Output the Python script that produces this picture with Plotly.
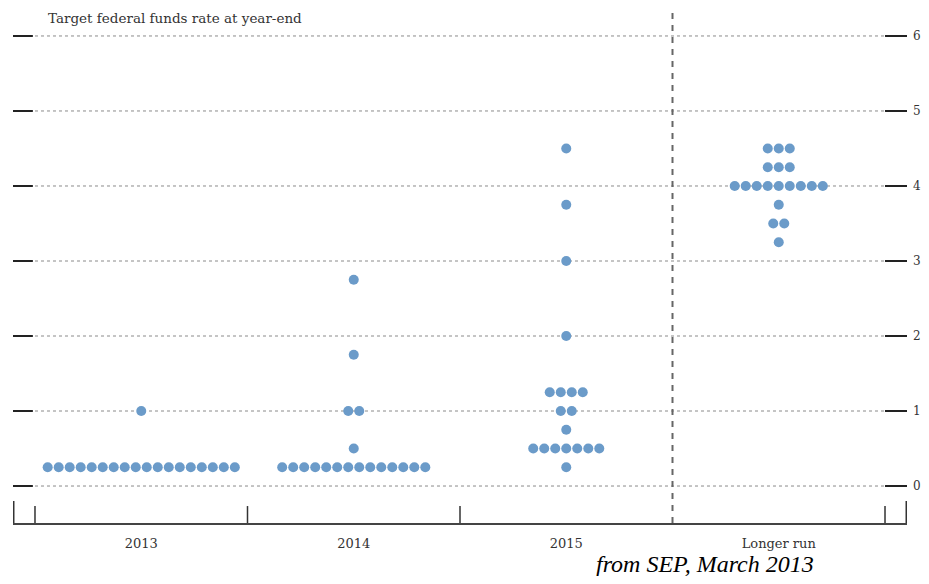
import plotly.graph_objects as go

# ---- data ----
categories = ["2013", "2014", "2015", "Longer run"]
rates_2013 = [0.25, 1.0]
counts_2013 = [18, 1]
rates_2014 = [0.25, 0.5, 1.0, 1.75, 2.75]
counts_2014 = [14, 1, 2, 1, 1]
rates_2015 = [0.25, 0.5, 0.75, 1.0, 1.25, 2.0, 3.0, 3.75, 4.5]
counts_2015 = [1, 7, 1, 2, 4, 1, 1, 1, 1]
rates_lr = [3.25, 3.5, 3.75, 4.0, 4.25, 4.5]
counts_lr = [1, 2, 1, 9, 3, 3]
y_ticks = [0, 1, 2, 3, 4, 5, 6]

groups = [(rates_2013, counts_2013), (rates_2014, counts_2014),
          (rates_2015, counts_2015), (rates_lr, counts_lr)]

STEP = 0.0518  # horizontal spacing between dots (in category units)
xs, ys = [], []
for i, (rates, counts) in enumerate(groups):
    for r, n in zip(rates, counts):
        for k in range(n):
            xs.append(i + (k - (n - 1) / 2) * STEP)
            ys.append(r)

fig = go.Figure()
fig.add_trace(go.Scatter(
    x=xs, y=ys, mode="markers",
    marker=dict(size=10, color="#6b9bc9", line=dict(width=0)),
    hoverinfo="y", showlegend=False))

XL, XR = -0.6035, 3.6035
YB, YT = -0.493, 6.373

W, H = 913, 568
ML, MR, MT, MB = 5, 14, 0, 53
PW, PH = W - ML - MR, H - MT - MB

shapes = []
for v in y_ticks:
    shapes.append(dict(type="line", xref="x", yref="y", x0=-0.5, x1=3.5, y0=v, y1=v,
                       line=dict(color="#8a8a8a", width=1, dash="dot"), layer="below"))
    shapes.append(dict(type="line", xref="x", yref="y", x0=XL, x1=-0.51, y0=v, y1=v,
                       line=dict(color="#222", width=2)))
    shapes.append(dict(type="line", xref="x", yref="y", x0=3.5, x1=XR, y0=v, y1=v,
                       line=dict(color="#222", width=2)))
# bottom vertical ticks
for xv, top in [(-0.6, -0.2), (3.6, -0.2), (-0.5, -0.267), (0.5, -0.267), (1.5, -0.267), (3.5, -0.267)]:
    shapes.append(dict(type="line", xref="x", yref="y", x0=xv, x1=xv, y0=YB, y1=top,
                       line=dict(color="#333", width=1.5)))
# dashed separator
shapes.append(dict(type="line", xref="x", yref="paper", x0=2.5, x1=2.5, y0=0, y1=1,
                   line=dict(color="#666", width=2, dash="6px,6px")))

fig.update_layout(
    width=W, height=H,
    margin=dict(l=ML, r=MR, t=MT, b=MB, autoexpand=False),
    paper_bgcolor="white", plot_bgcolor="white",
    shapes=shapes,
    font=dict(family="DejaVu Serif", color="#333"),
    xaxis=dict(range=[XL, XR], tickvals=[0, 1, 2, 3], ticktext=categories, automargin=False,
               showgrid=False, zeroline=False, showline=True, linecolor="#444", linewidth=2,
               ticks="", ticklabelstandoff=7, tickfont=dict(size=13, color="#333")),
    yaxis=dict(range=[YB, YT], tickvals=y_ticks, side="right", showgrid=False, automargin=False,
               zeroline=False, showline=False, ticks="", ticklabelstandoff=5,
               tickfont=dict(size=12, color="#333")),
    annotations=[
        dict(text="Target federal funds rate at year-end", xref="paper", yref="paper",
             x=(38 - ML) / PW, y=1 - 10 / PH, xanchor="left", yanchor="middle",
             showarrow=False, font=dict(size=13.5, color="#333", family="DejaVu Serif")),
        dict(text="<i>from SEP, March 2013</i>", xref="paper", yref="paper",
             x=(697 - ML) / PW, y=-(556 - PH) / PH, xanchor="center", yanchor="middle",
             showarrow=False, font=dict(size=24, color="black", family="Liberation Serif")),
    ],
)

fig.write_html("out.html")
